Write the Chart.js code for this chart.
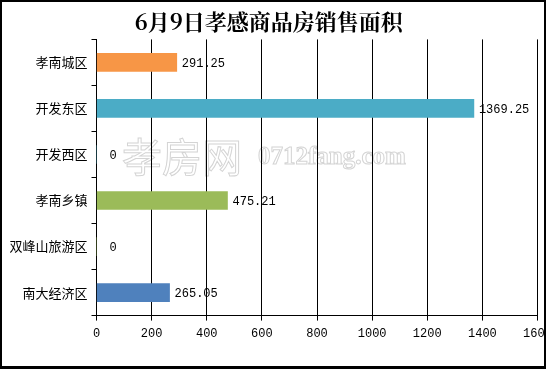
<!DOCTYPE html>
<html>
<head>
  <title>6月9日孝感商品房销售面积</title>
  <script src="https://cdn.jsdelivr.net/npm/chart.js"></script>
  <style>
    html, body { margin: 0; padding: 0; background: #fff; }
    #wrap { position: relative; width: 546px; height: 369px; overflow: hidden; }
    #chartCanvas { position: absolute; left: 0; top: 0; }
    #frame { position: absolute; left: 0; top: 0; width: 546px; height: 369px; box-sizing: border-box; border: 2px solid #000; border-bottom-width: 3px; pointer-events: none; }
  </style>
</head>
<body>
  <div id="wrap">
    <canvas id="chartCanvas" width="560" height="369"></canvas>
    <div id="frame"></div>
  </div>

  <script>
    const districts = ["孝南城区", "开发东区", "开发西区", "孝南乡镇", "双峰山旅游区", "南大经济区"];
    const areas = [291.25, 1369.25, 0, 475.21, 0, 265.05];
    const barColors = ["#F79646", "#4BACC6", "#4BACC6", "#9BBB59", "#9BBB59", "#4F81BD"];
    const xTicks = [0, 200, 400, 600, 800, 1000, 1200, 1400, 1600];

    const monoFont = "'Liberation Mono', 'DejaVu Sans Mono', monospace";
    const cjkFont = "'Noto Sans CJK SC', sans-serif";

    // faint watermark behind the grid
    const watermark = {
      id: "watermark",
      beforeDraw(chart) {
        const ctx = chart.ctx;
        ctx.save();
        ctx.strokeStyle = "#d4d4d4";
        ctx.lineWidth = 1;
        ctx.textBaseline = "middle";
        ctx.font = "40px " + cjkFont;
        ctx.strokeText("孝房网", 122, 157);
        ctx.font = "bold 25px 'Liberation Serif', serif";
        ctx.strokeText("0712fang.com", 258, 158);
        ctx.restore();
      }
    };

    // value labels at the end of each bar
    const valueLabels = {
      id: "valueLabels",
      afterDatasetsDraw(chart) {
        const ctx = chart.ctx;
        const meta = chart.getDatasetMeta(0);
        ctx.save();
        ctx.font = "12px " + monoFont;
        ctx.fillStyle = "#000";
        ctx.textBaseline = "middle";
        ctx.textAlign = "left";
        meta.data.forEach((bar, i) => {
          const v = areas[i];
          const txt = v === 0 ? "0" : v.toFixed(2);
          const x = v === 0 ? bar.x + 13 : bar.x + 5;
          ctx.fillText(txt, x, bar.y + 1);
        });
        ctx.restore();
      }
    };

    new Chart(document.getElementById("chartCanvas"), {
      type: "bar",
      data: {
        labels: districts,
        datasets: [{
          data: areas,
          backgroundColor: barColors,
          borderWidth: 0,
          barThickness: 18
        }]
      },
      options: {
        indexAxis: "y",
        responsive: false,
        animation: false,
        layout: { padding: { left: 0, right: 22.5, top: 0, bottom: 22 } },
        plugins: {
          legend: { display: false },
          tooltip: { enabled: false },
          title: {
            display: true,
            text: "6月9日孝感商品房销售面积",
            color: "#000",
            font: { family: "'Noto Serif CJK SC', 'Noto Sans CJK SC', serif", size: 22, weight: "bold", lineHeight: 1.2 },
            padding: { top: 8, bottom: 5 }
          }
        },
        scales: {
          x: {
            min: 0,
            max: 1600,
            afterBuildTicks(scale) { scale.ticks = xTicks.map(v => ({ value: v })); },
            grid: { color: "#000", lineWidth: 1, tickLength: 5, drawTicks: true },
            border: { color: "#000", width: 1 },
            ticks: {
              color: "#000",
              font: { family: monoFont, size: 12 },
              padding: 6,
              maxRotation: 0,
              autoSkip: false,
              callback: (v) => String(v)
            }
          },
          y: {
            afterFit(scale) { scale.width = 96.5; },
            grid: { drawOnChartArea: false, color: "#000", tickLength: 5, offset: true },
            border: { color: "#000", width: 1 },
            ticks: { color: "#000", font: { family: cjkFont, size: 13 }, padding: 4 }
          }
        }
      },
      plugins: [watermark, valueLabels]
    });
  </script>
</body>
</html>
